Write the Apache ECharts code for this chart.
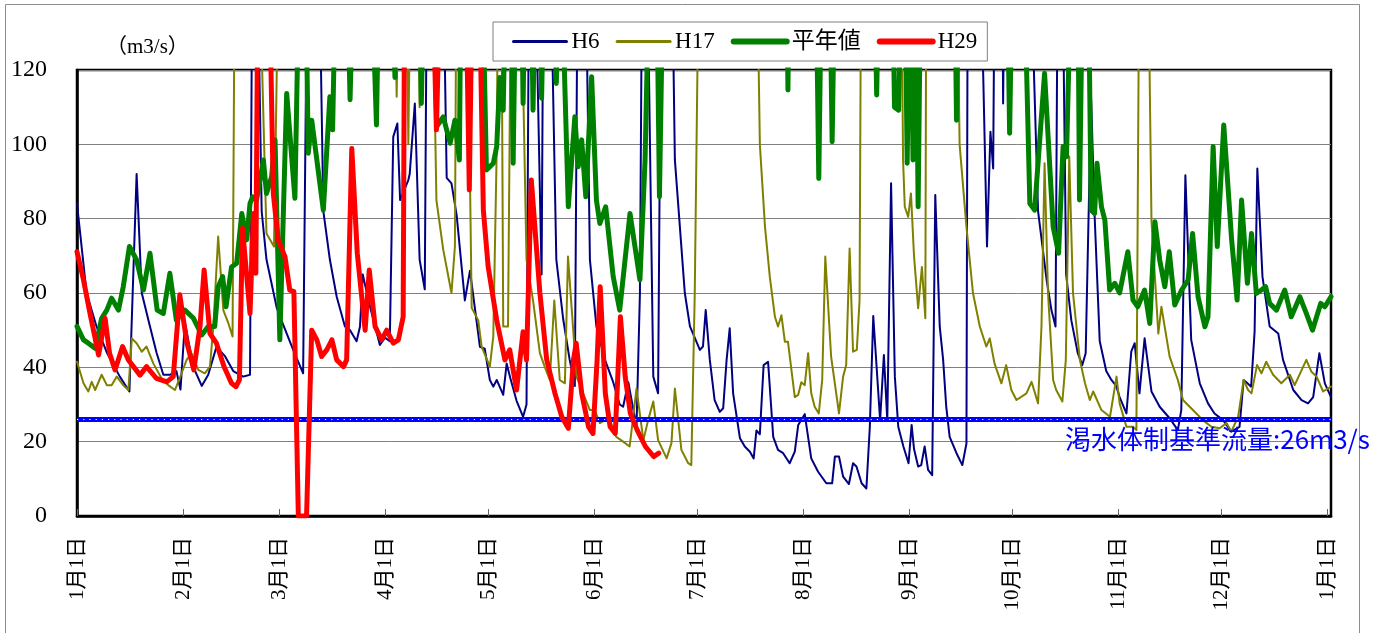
<!DOCTYPE html>
<html>
<head>
<meta charset="utf-8">
<script src="https://cdn.jsdelivr.net/npm/echarts@6/dist/echarts.min.js"></script>
<style>
html,body{margin:0;padding:0;background:#fff;}
#chart{width:1388px;height:633px;}
</style>
</head>
<body>
<div id="chart"></div>
<script>
// ---- data: [day of year (0 = Jan 1), flow m3/s]; values above 120 run off the top of the chart ----
const monthTickDays = [0, 31, 59, 90, 120, 151, 181, 212, 243, 273, 304, 334, 365];
const monthTickLabels = ['1月1日','2月1日','3月1日','4月1日','5月1日','6月1日','7月1日','8月1日','9月1日','10月1日','11月1日','12月1日','1月1日'];
const yTicks = [0, 20, 40, 60, 80, 100, 120];
const seriesNames = ['H6', 'H17', '平年値', 'H29'];
const thresholdValue = 26;
const thresholdLabel = '渇水体制基準流量:26m3/s';
const unitLabel = '（m3/s）';

const h6 = [[0,84],[2.8,60],[5.7,51],[8.7,44],[12.5,37.5],[15.3,33.5],[17.4,92],[18.9,60],[21.3,51],[23.2,44],[25.2,38],[27.1,38],[29,39],[30.2,34],[31.5,52],[34,40],[36.4,35],[38.3,38],[40.7,45.5],[43.2,43],[45.6,39],[48.5,37.5],[50.5,38],[51.2,160],[52.5,160],[53.9,82],[55.3,69],[58.3,56],[60.2,51.4],[63.1,44.7],[66,38.4],[67.3,160],[70.5,160],[71.9,82],[73.8,69],[75.8,59],[78.2,51],[79.7,50],[81.6,47],[82.6,51],[83.4,65],[85.6,56],[88.4,46],[89.9,48],[91.3,47],[92.3,102],[93.5,105.6],[94.3,85],[96.7,90.4],[97.1,92],[98.6,111],[100,69],[101.5,61],[102.2,160],[106.7,160],[107.9,91],[109.3,89.5],[110.8,81],[113.2,58],[114.7,66],[117.6,45.5],[119,45],[120.5,36.6],[121.5,34.8],[122.5,36.6],[124.4,32.6],[125.4,41],[126.5,37],[128.3,31],[130.2,26.7],[131.2,30],[132,160],[133.5,160],[135.6,65],[136.2,160],[138,160],[139.9,69],[141.9,53],[143.8,42],[145.3,35],[146.2,160],[148.3,160],[149.7,69],[151.6,51],[154.1,42],[156.5,36],[158.4,30],[159.4,29.4],[160.9,36],[163.3,24],[164.3,60],[165,160],[166.3,160],[168.2,37.5],[169.6,33],[170.6,160],[173.5,160],[174.5,95.8],[177.4,60],[178.9,51],[181.8,44.7],[182.7,45.6],[183.5,55.4],[184.7,42],[186.1,31.2],[187.6,28],[188.6,29],[189.6,42],[190.5,50.5],[191.5,33],[193.5,20.9],[194.9,18.7],[196.4,17.3],[197.5,15.5],[198.3,23],[199.3,22],[200.4,40.6],[201.7,41.5],[203.2,21.3],[204.6,17.8],[206.1,16.9],[208,14.2],[209.5,17.3],[210.5,24.5],[212.4,27.4],[214.3,15.5],[216.3,11.9],[218.7,8.8],[220.4,8.8],[221.2,16],[222.4,16],[223.6,10.6],[225.3,8.6],[226.5,14.2],[227.5,13.3],[229,8.8],[230.4,7.4],[231.4,24],[232.4,53.8],[234.4,25.8],[235.5,43.3],[236.5,25.8],[237.6,89.5],[238.7,37.5],[239.7,24],[241.2,18.7],[242.7,14.2],[243.6,24.5],[244.3,18],[245.5,13.3],[246.4,13.7],[247.4,18.7],[248.4,12.4],[249.6,11],[250.5,86.4],[251.8,51],[252.8,42],[253.7,29.4],[254.7,21.3],[256.7,16.9],[258.4,13.7],[259.6,19.5],[260,160],[263.5,160],[265.6,72.5],[266.6,103.4],[267.4,93.5],[267.9,160],[270,160],[270.3,111],[270.8,160],[278,160],[280.5,82],[283,63.5],[284.4,55.4],[285.6,51],[286.3,160],[287.5,160],[288.7,65],[290.2,52.7],[292.1,43.8],[293.4,40.6],[294.4,43.8],[295.3,83],[296,112],[297,81],[298.5,47],[300.4,39],[301.9,36.6],[303.3,35],[304.3,32],[306.3,27.6],[307.7,44.2],[308.7,46.5],[310.1,33],[311.6,47.8],[313.6,33.5],[316,29.4],[318.9,26.3],[321.3,23.1],[322.3,28.5],[323.5,91.7],[325.2,47.4],[327.7,35.7],[330.1,30.3],[332,27.6],[334.5,25.8],[336.9,22.7],[339.3,24],[340.5,36.6],[341.3,36],[342.7,34.8],[343.7,49.6],[344.5,93.5],[346,64.4],[348.1,51],[350.6,49.1],[352,42],[355,33.9],[357.4,31.2],[359.3,30.3],[360.8,32],[362.6,43.8],[364.2,35.7],[366,32]];

const h17 = [[0,41.5],[1.9,35.7],[3.3,33.5],[4.3,36.1],[5.3,33.9],[7.2,38],[8.7,35.2],[10.1,35.2],[11.6,37.5],[13.5,35.2],[15,33.9],[16,47.8],[17.4,46.5],[18.9,44.2],[20.3,45.6],[22.3,41],[24.7,37],[26.6,35.2],[28.6,33.9],[30.5,38.4],[32,42],[33.4,43.8],[35.4,39.3],[37.3,38.4],[38.8,40.2],[39.8,51],[41.2,75.2],[42.7,55.4],[44.2,51.8],[45.4,48.3],[46.1,160],[52.9,160],[55.3,76],[57.5,72.5],[59,160],[92.5,160],[93.3,112.8],[94,160],[96,160],[96.7,100],[97.5,160],[99.5,160],[100,110],[100.7,160],[103.5,160],[104.9,85],[106.9,71.6],[109.3,60],[110.3,72.5],[110.8,160],[113.7,160],[115.2,56],[117.1,52.7],[118.1,45.6],[120.5,40.2],[121.5,48.3],[122.5,98.5],[123,160],[123.8,160],[124.4,51],[125.8,51],[126.8,160],[129.3,160],[131.2,69],[133.1,58],[135.1,43.8],[136.5,40.2],[138,36.6],[139.3,58],[140.9,36.6],[142.4,35.7],[143.3,69.8],[145.8,37.5],[147.7,33],[149.7,28.5],[151.1,28.5],[152.6,25],[154.1,25.8],[155.5,25.8],[157.4,21.3],[159.4,20],[161.3,18.7],[163.3,34.3],[165.3,20.4],[166.7,25.8],[168.2,30.8],[169.6,20.4],[172.1,15.5],[173.5,19.6],[174.5,34.3],[176.4,17.8],[178.4,14.2],[179.3,13.7],[180.3,60],[181.6,160],[198.3,160],[199.3,100],[200.8,77.8],[202.2,64.4],[203.7,53.6],[204.6,51],[205.6,54],[206.6,46.9],[207.5,46.9],[209.5,32],[210.5,32.6],[211.4,36],[212.4,35.2],[213.4,43.8],[214.3,33],[215.3,29.4],[216.5,27.6],[217.5,36.6],[218.4,69.8],[220.1,42.9],[222.4,27.6],[223.6,37.5],[224.5,40.6],[225.5,72],[226.5,44.2],[227.6,44.7],[228.4,58],[228.9,160],[240.5,160],[241.1,95.8],[241.6,83.2],[242.6,80.5],[243.4,86.8],[244.3,70],[245.5,55.9],[246.6,67],[247.6,53.2],[247.9,160],[256.7,160],[257.6,100],[259.6,77.8],[261.5,60],[263.5,51],[265.4,45.6],[266.4,47.8],[267.8,41],[269.8,35.7],[271.2,40.6],[272.7,33.9],[274.2,31.2],[277.1,33],[278.6,36.1],[280.5,30.3],[281.5,51],[282.4,94.9],[283.4,60],[284.9,36.6],[285.8,33.9],[287.6,30.8],[288.6,42],[289.6,96.7],[290.7,60],[292.7,42],[294.2,35.7],[295.6,31.2],[296.6,33.5],[299,28.5],[301.5,26.7],[303.4,37.5],[304.3,30.3],[306.3,24],[308.2,24],[309.2,23.1],[310.1,160],[312.5,160],[313.6,79.6],[315.6,49.1],[316.5,56.3],[318.9,42.9],[321.3,36.6],[322.8,31.2],[325.7,28.5],[328.6,25.8],[331.1,24],[333.5,23.6],[335.5,25],[336.9,22.7],[338.9,26.7],[340.5,36.6],[341.8,33.9],[342.8,33],[344.4,40.6],[345.7,38.4],[347.1,41.5],[349.1,38],[351.5,35.7],[354,38],[355.4,35.2],[358.8,42],[360.3,38.8],[361.8,37.5],[363.7,33.5],[366,34.8]];

const normal = [[0,51],[1.9,47.4],[3.3,46.5],[5.3,45.1],[7.2,53.2],[8.7,55.4],[10.1,58.6],[12.1,55.4],[13.5,61.7],[15.3,72.5],[17.4,68.9],[19.4,60.8],[21.3,70.7],[23.4,55.4],[25.2,54.5],[27.1,65.3],[29,52.7],[31.5,55.4],[34,53.2],[36.4,48.7],[38.3,51],[40.2,51],[41.2,61.7],[42.5,64.4],[43.5,56.3],[45.1,67],[46.6,68],[48.1,81.4],[49.5,74.3],[50.5,84.1],[51.3,85.9],[52.4,85],[54.4,95.8],[55.3,86.8],[56.8,91.3],[57.8,101.2],[59.2,47.4],[61.2,113.7],[63.6,85.5],[65.1,160],[66.5,160],[67.5,97.6],[68.5,106.5],[71.9,82.3],[73.8,112.8],[74.6,103.9],[75.8,160],[78.5,160],[79.7,112],[81,160],[85.5,160],[87.4,105.2],[88.4,160],[91.5,160],[92.8,118],[94,160],[99.5,160],[100.5,111],[101.5,160],[104,160],[105,104.8],[106.9,107.4],[108.9,100.3],[110.3,106.5],[111.6,95.8],[112.2,160],[118,160],[119.5,93.1],[120.5,94],[121.5,94.9],[122.5,99.4],[123.4,118],[124.4,109.2],[125.4,160],[126.5,160],[127.3,94.9],[128.3,160],[129.5,160],[130.2,111],[131,160],[132.3,160],[133.1,109.2],[134,160],[135,160],[135.6,112.4],[136.6,160],[138.8,160],[139.9,116.4],[141,160],[143.4,83.2],[145.3,107.4],[146.3,94],[147.3,101.2],[148.5,85.9],[150.2,118.2],[151.6,85],[152.6,78.7],[154.3,83.2],[156.5,64.4],[158.4,55.4],[161.4,81.4],[164.3,63.5],[165.8,95.8],[167.3,160],[169,160],[170,85.9],[171.3,160],[207,160],[207.5,114.6],[208,160],[215.5,160],[216.5,90.8],[217.5,160],[219.5,160],[220.4,100.7],[221.4,160],[232.5,160],[233.4,113.3],[234.3,160],[237.8,160],[238.6,110],[239.8,109.2],[240.8,160],[241.5,160],[242.3,94.9],[243.2,160],[243.5,160],[244,95.8],[244.7,160],[245.1,160],[245.5,83.2],[246.4,160],[256,160],[256.7,106.5],[257.6,160],[271.3,160],[272.2,103],[273.2,160],[276.1,160],[278.1,84.1],[279.5,82.3],[282.4,119.1],[284.9,77.8],[286.5,70.7],[287.8,99.4],[288.8,96.7],[290.5,160],[292,160],[292.6,85],[293.7,160],[295,160],[296,82.3],[297,81.4],[297.7,94.9],[299,83.2],[300,79.6],[301.4,60.8],[302.9,62.6],[304.3,60],[306.7,71.1],[308.2,58.1],[309.6,56.3],[311.6,60.8],[313.1,51.8],[314.6,79.2],[316,68.9],[317.5,61.7],[318.8,71.1],[320.4,56.8],[322.4,60.8],[324.3,63.5],[325.6,76],[327.2,59],[329.2,50.9],[330.1,53.6],[331.6,99.4],[332.8,72.5],[334.7,105.2],[337,74.3],[338.6,58.1],[339.9,85],[341.6,62.6],[342.8,76],[344.2,59.9],[345.7,60.8],[346.9,61.7],[348.1,57.2],[350.1,55.4],[352.5,60.8],[354.4,53.6],[356.9,59],[358.8,54.5],[360.6,50],[361.8,53.6],[363,57.2],[364.2,56.3],[366,59]];

const h29 = [[0,71.1],[1.9,63.5],[3.8,54.5],[6.3,43.3],[8.2,53.2],[9.5,43.8],[11.1,39.3],[13.3,45.6],[15,42],[18.4,37.9],[20.3,40.2],[23.2,37],[26.2,36.1],[28.1,37.5],[30,59.5],[32,46.9],[34.1,39.3],[35.9,51],[37.1,66.2],[38.8,49.1],[40.7,46.5],[42.9,40.2],[45.1,35.7],[46.4,34.8],[47.4,36.6],[48.3,77.4],[50.5,54.5],[51.5,81.4],[52.2,65.3],[52.9,160],[55.8,160],[57.3,86.8],[58.7,74.3],[60.7,69.8],[62.1,60.8],[63.3,60.4],[64.6,0],[67,0],[68.5,50],[70,47.4],[71.4,42.9],[72.9,44.7],[74.4,47.4],[75.8,42],[77.8,40.2],[78.7,42],[80.2,98.9],[81.8,70.7],[84.1,50],[85.3,66.2],[87,51],[88.9,47.4],[90.4,50],[92.3,46.5],[93.8,47.4],[95.2,53.6],[95.7,160],[103.4,160],[104.9,103.9],[106.4,160],[113.2,160],[114.5,87.7],[115.6,160],[117.1,160],[118.6,82.3],[120,67.1],[122.5,52.7],[124.9,42],[126.3,44.7],[128.3,33.9],[130.2,49.6],[131.2,42],[132.6,90.4],[135.1,60],[137.1,42],[139.5,33],[141.5,26.7],[143.4,23.6],[144.9,42],[145.7,46.5],[147.3,33],[149.3,24],[150.6,22.2],[151.8,42],[152.7,61.7],[154.2,33],[155.6,24],[157.1,22.2],[158.6,53.6],[160,37.5],[161.5,27.6],[163.5,23.1],[165.9,18.7],[168.3,16],[169.8,16.9]];

const seriesData = [h6, h17, normal, h29];
const seriesColors = ['#000080', '#808000', '#008000', '#ff0000'];
const seriesWidths = [2, 2, 5, 5];

const serif = "'Liberation Serif', 'Times New Roman', 'Noto Sans CJK JP', serif";
const cjkSans = "'Noto Sans CJK JP', 'Noto Sans', sans-serif";

const chart = echarts.init(document.getElementById('chart'), null, {renderer: 'canvas'});

const series = seriesNames.map((name, i) => ({
  name: name,
  type: 'line',
  data: seriesData[i],
  symbol: 'none',
  showSymbol: false,
  clip: true,
  animation: false,
  color: seriesColors[i],
  lineStyle: {color: seriesColors[i], width: seriesWidths[i], join: 'round', cap: 'round'},
  z: 2 + i
}));

series.push({
  name: 'threshold',
  type: 'line',
  data: [],
  silent: true,
  animation: false,
  z: 10,
  markLine: {
    silent: true,
    symbol: ['none', 'none'],
    animation: false,
    label: {show: false},
    data: [
      {yAxis: thresholdValue, lineStyle: {color: '#0000ff', width: 5, type: 'solid'}},
      {yAxis: thresholdValue, lineStyle: {color: '#ffffff', width: 1.2, type: [1.2, 5]}}
    ]
  }
});

const option = {
  backgroundColor: '#ffffff',
  animation: false,
  grid: {left: 77, top: 70, right: 57, bottom: 117, show: true, borderColor: '#000', borderWidth: 2.5, backgroundColor: 'transparent'},
  legend: {
    data: seriesNames.map((n, i) => ({name: n, lineStyle: {width: seriesWidths[i] + (seriesWidths[i] > 2 ? 1 : 1), color: seriesColors[i]}})),
    left: 493, top: 22,
    padding: [8, 10, 8, 19],
    itemWidth: 53, itemHeight: 14, itemGap: 16,
    itemStyle: {opacity: 0},
    backgroundColor: '#fff',
    borderColor: '#7f7f7f', borderWidth: 1,
    textStyle: {fontFamily: serif, fontSize: 23, color: '#000', padding: [0, 0, 0, 0]}
  },
  xAxis: {
    type: 'value', min: 0, max: 366,
    axisLine: {show: true, lineStyle: {color: '#000', width: 2.5}},
    axisTick: {show: true, inside: true, length: 7, customValues: monthTickDays, lineStyle: {color: '#666', width: 1}},
    axisLabel: {
      show: true, rotate: 90, margin: 21, customValues: monthTickDays,
      fontFamily: serif, fontSize: 21, color: '#000',
      formatter: v => { const k = monthTickDays.indexOf(Math.round(v)); return k >= 0 ? monthTickLabels[k] : ''; }
    },
    splitLine: {show: false}
  },
  yAxis: {
    type: 'value', min: 0, max: 120, interval: 20,
    axisLine: {show: true, lineStyle: {color: '#000', width: 2.5}},
    axisTick: {show: false},
    axisLabel: {margin: 30, fontFamily: serif, fontSize: 24, color: '#000',
      formatter: v => (yTicks.indexOf(v) >= 0 ? String(v) : '')},
    splitLine: {show: true, lineStyle: {color: '#808080', width: 1}}
  },
  graphic: [
    {type: 'rect', left: 3, top: 2, silent: true, z: -10,
      shape: {width: 1354, height: 629}, style: {fill: 'none', stroke: '#8c8c8c', lineWidth: 1}},
    {type: 'text', left: 106, top: 37, silent: true,
      style: {text: unitLabel, fontFamily: serif, fontSize: 21, fill: '#000'}},
    {type: 'text', left: 1065, top: 426, silent: true, z: 100,
      style: {text: thresholdLabel, fontFamily: cjkSans, fontSize: 26, fill: '#0000ff'}}
  ],
  series: series
};

chart.setOption(option);
</script>
</body>
</html>
